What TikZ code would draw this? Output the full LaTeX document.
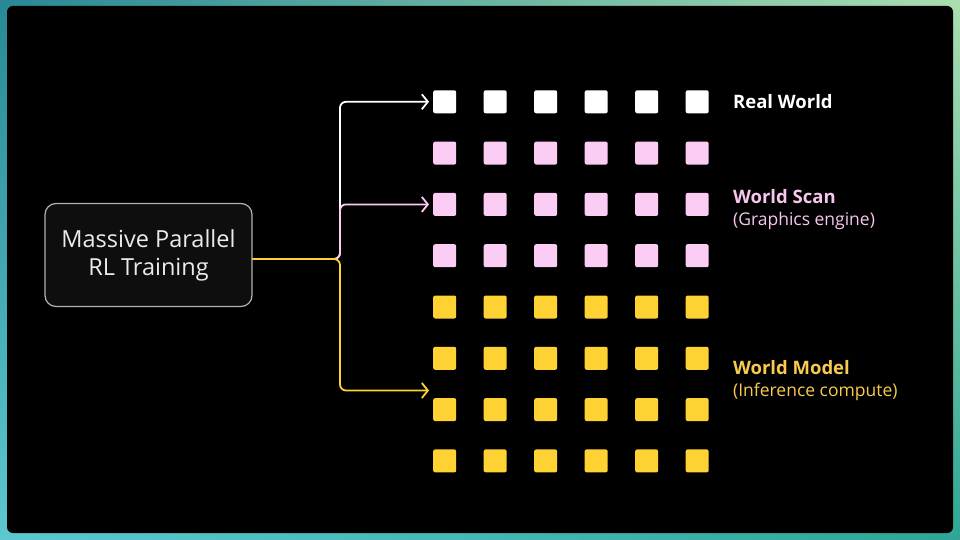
\documentclass[tikz,border=0pt]{standalone}
\usepackage{fontspec}
\setmainfont{Open Sans}
\usetikzlibrary{arrows.meta,positioning,shadings}
\definecolor{gwteal}{RGB}{40,136,150}
\definecolor{gwmint}{RGB}{170,222,176}
\definecolor{gwcyan}{RGB}{92,200,210}
\definecolor{gwsea}{RGB}{46,166,150}
\definecolor{rwwhite}{RGB}{255,255,255}
\definecolor{wspink}{RGB}{251,205,245}
\definecolor{wmyellow}{RGB}{255,210,52}
\definecolor{wstext}{RGB}{247,198,239}
\definecolor{wmtext}{RGB}{248,202,78}
\definecolor{boxgray}{RGB}{14,14,14}

\begin{document}
\begin{tikzpicture}[
  x=1pt,y=-1pt,
  font=\fontsize{17.5}{22}\selectfont,
  cell/.style={minimum size=23pt,inner sep=0pt,rounded corners=2pt},
  feed/.style={-{Straight Barb[length=6pt,width=15pt]},line width=1.8pt,rounded corners=6pt},
  tag/.style={align=left,anchor=west,inner sep=0pt},
  head/.style={font=\fontsize{18.5}{22}\selectfont\bfseries}
]
  % frame and panel
  \shade[upper left=gwteal,upper right=gwmint,lower left=gwcyan,lower right=gwsea]
    (0,0) rectangle (960,540);
  \fill[black,rounded corners=6pt] (7,6) rectangle (953,533);

  \node[draw=black!30,fill=boxgray,line width=1.2pt,rounded corners=11pt,
    minimum width=207pt,minimum height=103pt,align=center,text=black!8,
    font=\fontsize{23.5}{28}\selectfont] (train) at (148.5,255) {Massive Parallel\\RL Training};

  % grid of environments
  \foreach \r/\col in {1/rwwhite,2/wspink,3/wspink,4/wspink,5/wmyellow,6/wmyellow,7/wmyellow,8/wmyellow}
    \foreach \c in {1,...,6}
      \node[cell,fill=\col] (c-\r-\c) at ({444.7+(\c-1)*50.5},{101.8+(\r-1)*51.3}) {};

  \node[tag,head,text=rwwhite,right=24pt of c-1-6] (rw) {Real World};
  \node[tag,text=wstext,right=24pt of c-3-6,yshift=-5pt] (ws)
    {{\fontsize{18.5}{22}\selectfont\bfseries World Scan}\\(Graphics engine)};
  \node[tag,text=wmtext,right=24pt of c-6-6,yshift=-22pt] (wm)
    {{\fontsize{18.5}{22}\selectfont\bfseries World Model}\\(Inference compute)};

  \coordinate (split) at (340,259);
  \coordinate (wmtip) at (429,390.5);
  \draw[feed,rwwhite] ([yshift=-4pt]train.east) -- (split) |- ([xshift=-4pt]c-1-1.west);
  \draw[feed,wspink] ([yshift=-4pt]train.east) -- (split) |- ([xshift=-4pt]c-3-1.west);
  \draw[feed,wmyellow] ([yshift=-4pt]train.east) -- (split) |- (wmtip);
\end{tikzpicture}
\end{document}
